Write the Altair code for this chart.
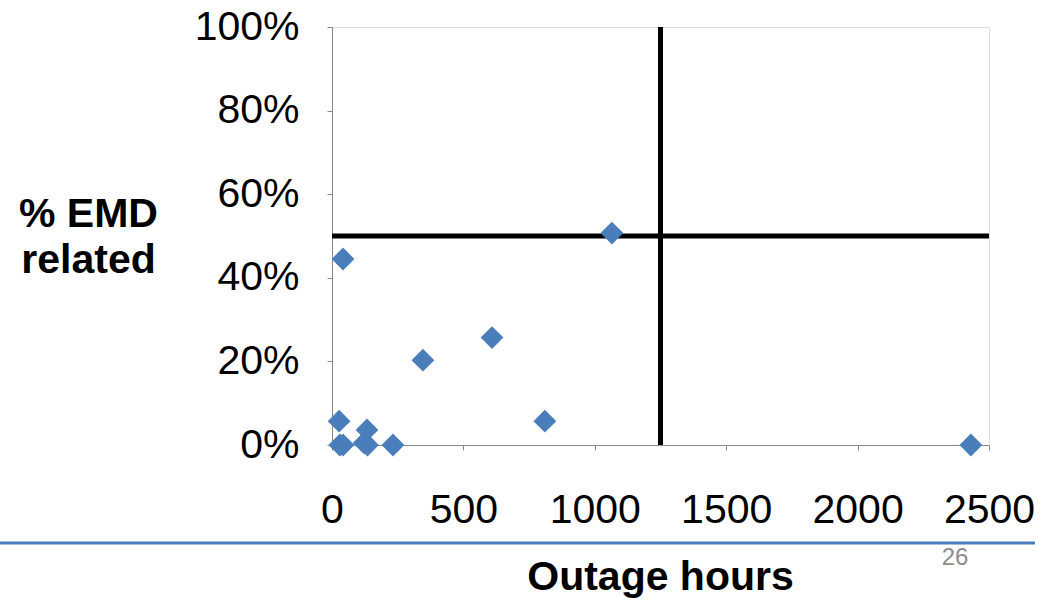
import altair as alt
import pandas as pd

# Outage records: total outage hours vs. share attributed to EMD
hours = [27, 30, 42, 42, 122, 135, 133, 232, 346, 609, 810, 1065, 2431]
emd_share = [0.057, 0.0, 0.0, 0.445, 0.005, 0.0, 0.036, 0.0, 0.203, 0.257, 0.057, 0.507, 0.0]

# Quadrant split lines
hours_split = 1250
share_split = 0.5

x_ticks = [0, 500, 1000, 1500, 2000, 2500]
y_ticks = [0, 0.2, 0.4, 0.6, 0.8, 1.0]

FONT = "Liberation Sans"
AXIS_GREY = "#868686"
BLUE = "#4A7EBB"

points = pd.DataFrame({"hours": hours, "share": emd_share})

x_scale = alt.Scale(domain=[0, 2500], nice=False, zero=True)
y_scale = alt.Scale(domain=[0, 1], nice=False, zero=True)

x_axis = alt.Axis(
    values=x_ticks, format="d", grid=False, labelOverlap=False, labelFlush=False,
    title="Outage hours", labelFontSize=41, labelPadding=40,
    titleFontSize=41, titleFontWeight="bold", titleX=328, titleY=132,
    titleBaseline="middle", titleAnchor="middle",
)
y_axis = alt.Axis(
    values=y_ticks, format=".0%", grid=False, labelOverlap=False, labelFlush=False,
    title=["% EMD", "related"], labelFontSize=41,
    labelPadding=28, titleFontSize=41, titleFontWeight="bold", titleAngle=0,
    titleAlign="center", titleBaseline="middle", titleX=-244, titleY=187,
    titleLineHeight=46,
)

X = alt.X("x:Q", scale=x_scale, axis=x_axis)
Y = alt.Y("y:Q", scale=y_scale, axis=y_axis)

vline = alt.Chart(pd.DataFrame({"x": [hours_split], "y": [0.0], "y2": [1.0]})).mark_rule(
    color="black", strokeWidth=5
).encode(x=X, y=Y, y2="y2:Q")

hline = alt.Chart(pd.DataFrame({"y": [share_split], "x": [0], "x2": [2500]})).mark_rule(
    color="black", strokeWidth=5
).encode(x=X, x2="x2:Q", y=Y)

dots = alt.Chart(points.rename(columns={"hours": "x", "share": "y"})).mark_point(
    shape="diamond", filled=True, size=520, color=BLUE, opacity=1
).encode(x=X, y=Y)

# Slide footer: separator line and page number
footer_line = alt.Chart(pd.DataFrame({"k": [0]})).mark_rule(
    color=BLUE, strokeWidth=3
).encode(x=alt.value(-332), x2=alt.value(703), y=alt.value(516))

page_no = alt.Chart(pd.DataFrame({"label": ["26"]})).mark_text(
    font=FONT, fontSize=24, color="#8C8C8C", align="center", baseline="middle"
).encode(x=alt.value(623), y=alt.value(531), text="label:N")

chart = alt.layer(vline, hline, dots, footer_line, page_no).properties(
    width=657,
    height=418,
    autosize=alt.AutoSizeParams(type="none"),
    padding={"left": 332, "top": 27, "right": 61, "bottom": 155},
).configure_view(stroke=None).configure_axis(
    grid=False, domainColor=AXIS_GREY, domainWidth=2, tickColor=AXIS_GREY,
    tickWidth=2, tickSize=8, labelFont=FONT, titleFont=FONT, labelColor="black",
    titleColor="black",
).configure(background="white")

chart.save("out.html", embed_options={"renderer": "svg", "actions": False})
